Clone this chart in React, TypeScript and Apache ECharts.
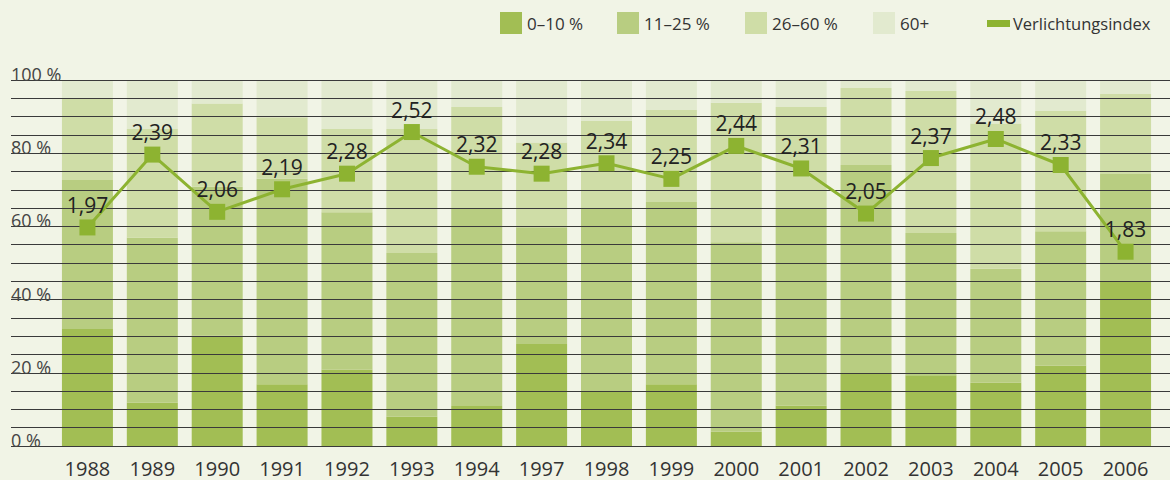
import React, { useEffect, useRef } from "react";
import * as echarts from "echarts";

const years = ["1988","1989","1990","1991","1992","1993","1994","1997","1998","1999","2000","2001","2002","2003","2004","2005","2006"];
const share0to10 = [32.0, 11.8, 30.1, 16.9, 20.8, 8.0, 10.9, 27.9, 15.0, 16.9, 3.9, 11.0, 19.9, 19.3, 17.3, 21.9, 44.9];
const share11to25 = [40.7, 45.1, 40.7, 56.1, 43.1, 44.7, 53.9, 31.9, 49.8, 49.8, 51.8, 53.8, 56.9, 38.9, 31.1, 36.8, 29.4];
const share26to60 = [22.1, 29.7, 22.8, 16.8, 22.7, 33.9, 27.8, 23.1, 24.0, 25.1, 38.1, 27.8, 21.0, 38.8, 39.7, 32.8, 21.9];
const share60plus = [5.2, 13.4, 6.4, 10.2, 13.4, 13.4, 7.4, 17.1, 11.2, 8.2, 6.2, 7.4, 2.2, 3.0, 11.9, 8.5, 3.8];
const lightIndex = [1.97, 2.39, 2.06, 2.19, 2.28, 2.52, 2.32, 2.28, 2.34, 2.25, 2.44, 2.31, 2.05, 2.37, 2.48, 2.33, 1.83];

const seriesNames = ["0–10 %", "11–25 %", "26–60 %", "60+"];
const lineName = "Verlichtungsindex";

const COLORS = ["#a2be54", "#b8cd81", "#cfdda7", "#e2eacf"];
const LINE_COLOR = "#8db331";
const BG = "#f1f4e6";
const FONT = "'Open Sans', 'Noto Sans', sans-serif";

export default function App() {
  const ref = useRef<HTMLDivElement>(null);
  useEffect(() => {
    if (!ref.current) return;
    const chart = echarts.init(ref.current, null, { renderer: "svg" });
    const barData = [share0to10, share11to25, share26to60, share60plus];

    const legendX = [500, 617, 745, 873];
    const legendGraphics: any[] = [];
    seriesNames.forEach((n, i) => {
      legendGraphics.push({
        type: "rect",
        shape: { x: legendX[i], y: 12, width: 22, height: 22 },
        style: { fill: COLORS[i] },
      });
      legendGraphics.push({
        type: "text",
        x: legendX[i] + 27,
        y: 23,
        style: { text: n, font: `17px ${FONT}`, fill: "#333", verticalAlign: "middle" },
      });
    });
    legendGraphics.push({
      type: "rect",
      shape: { x: 987, y: 20, width: 23, height: 7 },
      style: { fill: LINE_COLOR },
    });
    legendGraphics.push({
      type: "text",
      x: 1013,
      y: 23,
      style: { text: lineName, font: `16.5px ${FONT}`, fill: "#333", verticalAlign: "middle" },
    });

    chart.setOption({
      animation: false,
      backgroundColor: BG,
      textStyle: { fontFamily: FONT },
      grid: [
        { left: 11, right: 0, top: 80, bottom: 34 },
        { left: 55, right: 12, top: 80, bottom: 34 },
      ],
      xAxis: [
        {
          type: "value",
          gridIndex: 0,
          min: 0,
          max: 1,
          show: true,
          axisLine: { show: false },
          axisTick: { show: false },
          axisLabel: { show: false },
          splitLine: { show: false },
        },
        {
          type: "category",
          gridIndex: 1,
          data: years,
          axisLine: { show: false },
          axisTick: { show: false },
          axisLabel: { color: "#333", fontSize: 20, margin: 12, fontFamily: FONT },
        },
      ],
      yAxis: [
        {
          type: "value",
          gridIndex: 0,
          min: 0,
          max: 100,
          interval: 5,
          z: 5,
          axisLine: { show: false },
          axisTick: { show: false },
          splitLine: { show: true, lineStyle: { color: "#3a3a3a", width: 1 } },
          axisLabel: {
            inside: true,
            margin: 0,
            verticalAlign: "bottom",
            lineHeight: 12,
            color: "#444",
            fontSize: 18,
            fontFamily: FONT,
            formatter: (v: number) => (v % 20 === 0 ? `${v} %` : ""),
          },
        },
        { type: "value", gridIndex: 1, min: 0, max: 100, show: false, splitLine: { show: false } },
        { type: "value", gridIndex: 1, min: 0.71, max: 2.82, show: false, splitLine: { show: false } },
      ],
      series: [
        ...barData.map((d, i) => ({
          name: seriesNames[i],
          type: "bar",
          stack: "share",
          xAxisIndex: 1,
          yAxisIndex: 1,
          barWidth: 51,
          z: 2,
          itemStyle: { color: COLORS[i] },
          data: d,
        })),
        {
          name: lineName,
          type: "line",
          xAxisIndex: 1,
          yAxisIndex: 2,
          z: 10,
          symbol: "rect",
          symbolSize: 16,
          lineStyle: { color: LINE_COLOR, width: 3 },
          itemStyle: { color: LINE_COLOR },
          label: {
            show: true,
            position: "top",
            distance: 4,
            color: "#222",
            fontSize: 21,
            fontFamily: FONT,
            formatter: (p: any) => String(p.value.toFixed(2)).replace(".", ","),
          },
          data: lightIndex,
        },
      ],
      graphic: legendGraphics,
    });
    return () => chart.dispose();
  }, []);
  return (
    <div
      ref={ref}
      style={{ position: "fixed", left: 0, top: 0, width: 1170, height: 480 }}
    />
  );
}
